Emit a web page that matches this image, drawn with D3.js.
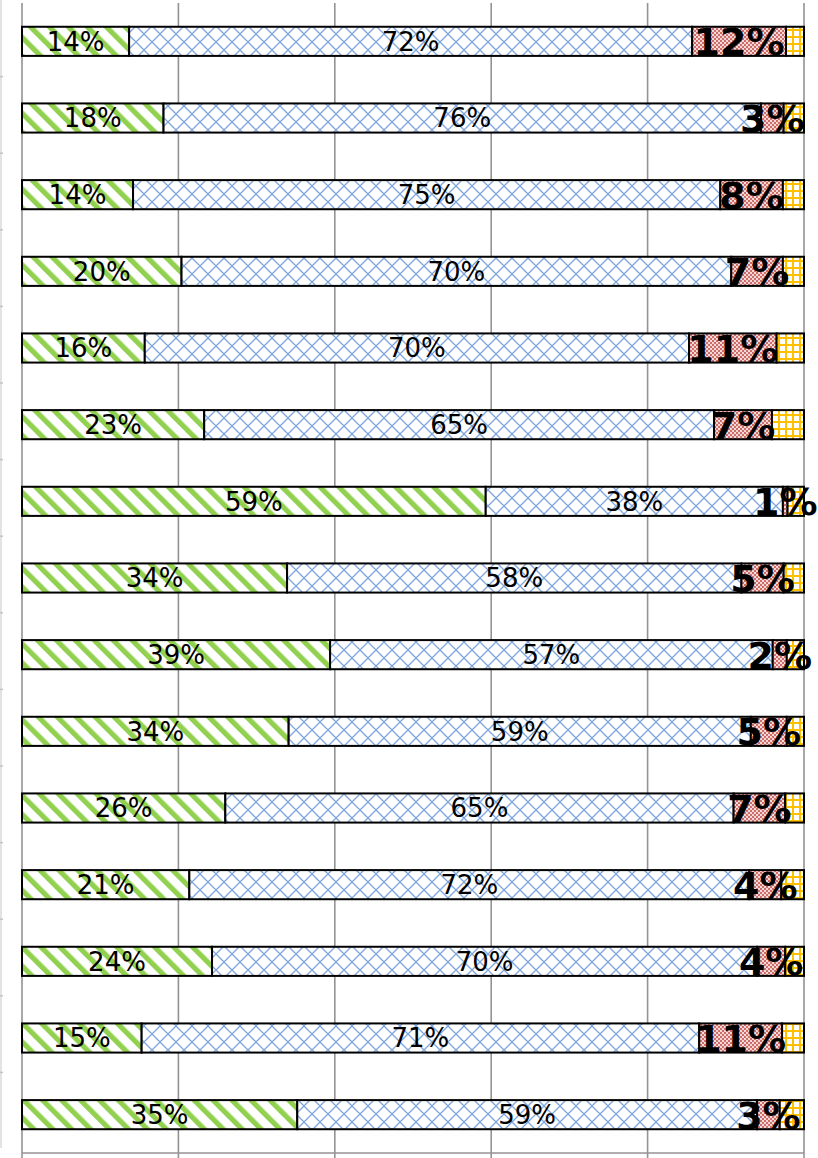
<!DOCTYPE html>
<html>
<head>
<meta charset="utf-8">
<script src="https://cdnjs.cloudflare.com/ajax/libs/d3/7.8.5/d3.min.js"></script>
<style>
  html, body { margin: 0; padding: 0; background: #fff; }
  svg { display: block; }
</style>
</head>
<body>
<div id="chart"></div>
<script>
// rows, top to bottom (no category names are shown in the picture)
const categories = ["1", "2", "3", "4", "5", "6", "7", "8", "9", "10", "11", "12", "13", "14", "15"];

// share of each segment, percent
const greenValues  = [13.7, 18.1, 14.2, 20.4, 15.7, 23.3, 59.3, 33.9, 39.4, 34.1, 26.0, 21.4, 24.3, 15.3, 35.2];
const blueValues   = [72.0, 76.4, 75.1, 70.3, 69.6, 65.2, 38.0, 58.1, 56.6, 59.1, 65.0, 71.6, 69.7, 71.3, 58.8];
const redValues    = [12.0,  2.9,  8.0,  6.6, 11.2,  7.4,  0.6,  5.4,  1.8,  4.6,  6.6,  4.1,  3.6, 10.6,  2.9];
const yellowValues = [ 2.3,  2.6,  2.7,  2.7,  3.5,  4.1,  2.1,  2.6,  2.2,  2.2,  2.4,  2.9,  2.4,  2.8,  3.1];

const xTicks = [0, 20, 40, 60, 80, 100];

const W = 818, H = 1158;
const seriesKeys = ["green", "blue", "red", "yellow"];

const rows = categories.map((c, i) => ({
  cat: c,
  green: greenValues[i],
  blue: blueValues[i],
  red: redValues[i],
  yellow: yellowValues[i]
}));

const svg = d3.select("#chart").append("svg")
  .attr("width", W)
  .attr("height", H);

// ---- fill patterns
const defs = svg.append("defs");

// green wide downward diagonal stripes
const pg = defs.append("pattern")
  .attr("id", "pat-green")
  .attr("patternUnits", "userSpaceOnUse")
  .attr("width", 13.4).attr("height", 13.4)
  .attr("patternTransform", "rotate(-45)");
pg.append("rect").attr("width", 13.4).attr("height", 13.4).attr("fill", "#fff");
pg.append("rect").attr("x", 0).attr("width", 5.2).attr("height", 13.4).attr("fill", "#92d050");

// blue diagonal lattice
const pb = defs.append("pattern")
  .attr("id", "pat-blue")
  .attr("patternUnits", "userSpaceOnUse")
  .attr("width", 16).attr("height", 16)
  .attr("y", 2);
pb.append("rect").attr("width", 16).attr("height", 16).attr("fill", "#fff");
pb.append("path")
  .attr("d", "M0,0 L16,16 M16,0 L0,16 M-1,15 L1,17 M15,-1 L17,1 M-1,1 L1,-1 M15,17 L17,15")
  .attr("stroke", "#7ea6dc")
  .attr("stroke-width", 1.3)
  .attr("fill", "none");

// red fine checker
const pr = defs.append("pattern")
  .attr("id", "pat-red")
  .attr("patternUnits", "userSpaceOnUse")
  .attr("width", 4).attr("height", 4);
pr.append("rect").attr("width", 4).attr("height", 4).attr("fill", "#f2d8d7");
pr.append("rect").attr("x", 0).attr("y", 0).attr("width", 2).attr("height", 2).attr("fill", "#cd6c68");
pr.append("rect").attr("x", 2).attr("y", 2).attr("width", 2).attr("height", 2).attr("fill", "#cd6c68");

// yellow grid
const py = defs.append("pattern")
  .attr("id", "pat-yellow")
  .attr("patternUnits", "userSpaceOnUse")
  .attr("width", 7).attr("height", 7)
  .attr("x", 1).attr("y", 1);
py.append("rect").attr("width", 7).attr("height", 7).attr("fill", "#fff");
py.append("path")
  .attr("d", "M0,1 H7 M1,0 V7")
  .attr("stroke", "#ffc000")
  .attr("stroke-width", 2);

const fills = {
  green: "url(#pat-green)",
  blue: "url(#pat-blue)",
  red: "url(#pat-red)",
  yellow: "url(#pat-yellow)"
};

// ---- scales
const x = d3.scaleLinear().domain([0, 100]).range([22, 804]);
const y = d3.scaleBand()
  .domain(categories)
  .range([3, 1153])
  .paddingInner(0.62)
  .paddingOuter(0.31);

// ---- faint axis of the neighbouring chart at the left edge
svg.append("line")
  .attr("x1", 1).attr("x2", 1)
  .attr("y1", 0).attr("y2", 1148)
  .attr("stroke", "#dadada")
  .attr("stroke-width", 1.5);
svg.append("g").selectAll("line")
  .data(d3.range(1, 15))
  .join("line")
  .attr("x1", 0).attr("x2", 3)
  .attr("y1", d => d * 76.6)
  .attr("y2", d => d * 76.6)
  .attr("stroke", "#c4c4c4")
  .attr("stroke-width", 1.5);

// ---- gridlines
svg.append("g").selectAll("line")
  .data(xTicks)
  .join("line")
  .attr("x1", d => x(d)).attr("x2", d => x(d))
  .attr("y1", 3).attr("y2", H)
  .attr("stroke", "#939393")
  .attr("stroke-width", 1.6);

svg.append("line")
  .attr("x1", x(0)).attr("x2", x(100))
  .attr("y1", 1153).attr("y2", 1153)
  .attr("stroke", "#939393")
  .attr("stroke-width", 1.6);

// ---- stacked bars
const stacked = d3.stack().keys(seriesKeys)(rows);

const layers = svg.append("g").selectAll("g")
  .data(stacked)
  .join("g")
  .attr("fill", d => fills[d.key]);

layers.selectAll("rect")
  .data(d => d)
  .join("rect")
  .attr("x", d => x(d[0]))
  .attr("y", d => y(d.data.cat))
  .attr("width", d => x(d[1]) - x(d[0]))
  .attr("height", y.bandwidth())
  .attr("stroke", "#000")
  .attr("stroke-width", 2);

// ---- labels
const fmt = v => Math.round(v) + "%";

const labelSpecs = [
  { key: "green", size: 26, weight: "normal", dy: 0.36 },
  { key: "blue", size: 26, weight: "normal", dy: 0.36 },
  { key: "red", size: 38, weight: "bold", dy: 0.37 }
];

labelSpecs.forEach(spec => {
  const layer = stacked.find(s => s.key === spec.key);
  svg.append("g").selectAll("text")
    .data(layer)
    .join("text")
    .attr("x", d => (x(d[0]) + x(d[1])) / 2)
    .attr("y", d => y(d.data.cat) + y.bandwidth() / 2 + spec.size * spec.dy)
    .attr("text-anchor", "middle")
    .attr("font-family", "'DejaVu Sans', Verdana, sans-serif")
    .attr("font-size", spec.size)
    .attr("font-weight", spec.weight)
    .attr("fill", "#000")
    .text(d => fmt(d.data[spec.key]));
});
</script>
</body>
</html>
